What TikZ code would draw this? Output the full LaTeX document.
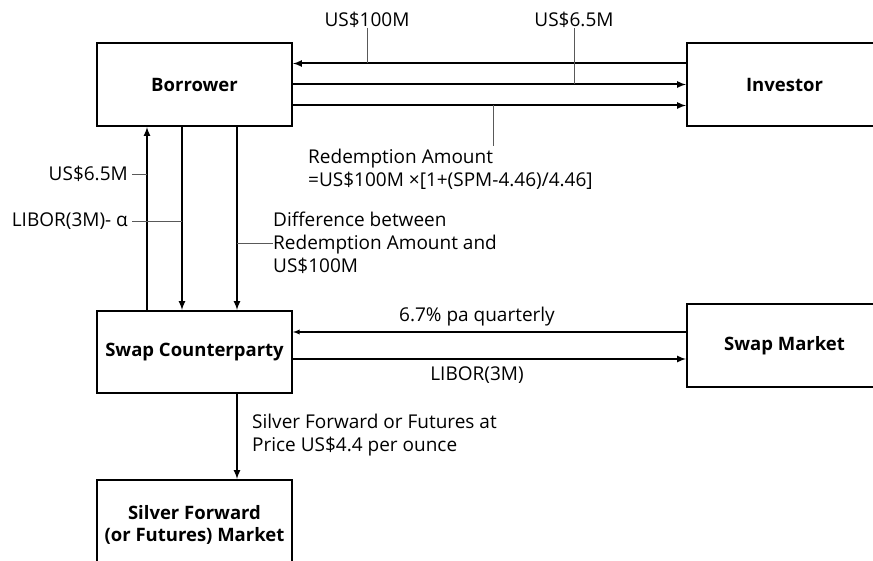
\documentclass[tikz,border=0pt]{standalone}
\usepackage{fontspec}
\setmainfont{Open Sans}
\usetikzlibrary{arrows}
\tikzstyle{party}=[draw, rectangle, line width=2pt, inner sep=0pt, align=center, font=\bfseries\fontsize{18.5}{22}\selectfont]
\tikzstyle{flow}=[line width=2pt, ->]
\tikzstyle{tick}=[line width=0.8pt, draw=black!65]
\tikzstyle{lbl}=[inner sep=0pt, align=left, font=\fontsize{19}{23}\selectfont]

\begin{document}
\begin{tikzpicture}[x=1pt, y=-1pt, >=latex]
\useasboundingbox (0,0) rectangle (873,561);

	\path (194.5,84.5) node[party, minimum width=195pt, minimum height=83pt] (borrower) {Borrower}
	      (784.5,84.5) node[party, minimum width=195pt, minimum height=83pt] (investor) {Investor}
	      (194.5,352) node[party, minimum width=195pt, minimum height=82pt] (swapcp) {Swap Counterparty}
	      (784.5,345.5) node[party, minimum width=195pt, minimum height=83pt] (swapmkt) {Swap Market}
	      (194.5,525) node[party, minimum width=195pt, minimum height=90pt] (silver) {Silver Forward\\(or Futures) Market};

	% borrower <-> investor
	\coordinate (top) at ([yshift=21pt]borrower.east);
	\coordinate (bot) at ([yshift=-21pt]borrower.east);
	\draw[flow] (investor.west |- top) -- (top);
	\draw[flow] (borrower.east) -- (investor.west |- borrower.east);
	\draw[flow] (bot) -- (investor.west |- bot);

	% borrower <-> swap counterparty
	\coordinate (upl) at ([xshift=-47.5pt]borrower.south);
	\coordinate (dnl) at ([xshift=-12.5pt]borrower.south);
	\coordinate (dfl) at ([xshift=42.5pt]borrower.south);
	\draw[flow] (swapcp.north -| upl) -- (upl);
	\draw[flow] (dnl) -- (swapcp.north -| dnl);
	\draw[flow] (dfl) -- (swapcp.north -| dfl);

	% swap counterparty <-> swap market
	\coordinate (fix) at (0,332);
	\coordinate (flt) at (0,359);
	\draw[->, line width=1.3pt] (swapmkt.west |- fix) -- (swapcp.east |- fix);
	\draw[flow] (swapcp.east |- flt) -- (swapmkt.west |- flt);

	% swap counterparty -> silver market
	\draw[flow] (swapcp.south -| dfl) -- (silver.north -| dfl);

	% labels
	\node[lbl] (amt100) at (367,20) {US\$100M};
	\draw[tick] (amt100.south) -- (amt100.south |- top);
	\node[lbl] (cpninv) at (574,20) {US\$6.5M};
	\draw[tick] (cpninv.south) -- (cpninv.south |- borrower.east);
	\coordinate (rdtick) at (493,146);
	\draw[tick] (rdtick |- bot) -- (rdtick);
	\node[lbl, anchor=west] (redeem) at (308,169) {Redemption Amount\\=US\$100M ×[1+(SPM-4.46)/4.46]};

	\node[lbl, anchor=east] (cpnbor) at (128,174) {US\$6.5M};
	\draw[tick] ([xshift=4pt]cpnbor.east) -- (upl |- cpnbor.east);
	\node[lbl, anchor=east] (libalpha) at (128,221) {LIBOR(3M)- α};
	\draw[tick] ([xshift=4pt]libalpha.east) -- (dnl |- libalpha.east);
	\node[lbl, anchor=west] (diff) at (273,243) {Difference between\\Redemption Amount and\\US\$100M};
	\draw[tick] (dfl |- diff.west) -- (diff.west);

	\node[lbl] (fixlbl) at (477,317) {6.7\% pa quarterly};
	\node[lbl] (fltlbl) at (477,375) {LIBOR(3M)};
	\node[lbl, anchor=west] (fwdlbl) at (252,435) {Silver Forward or Futures at\\Price US\$4.4 per ounce};

\end{tikzpicture}
\end{document}
